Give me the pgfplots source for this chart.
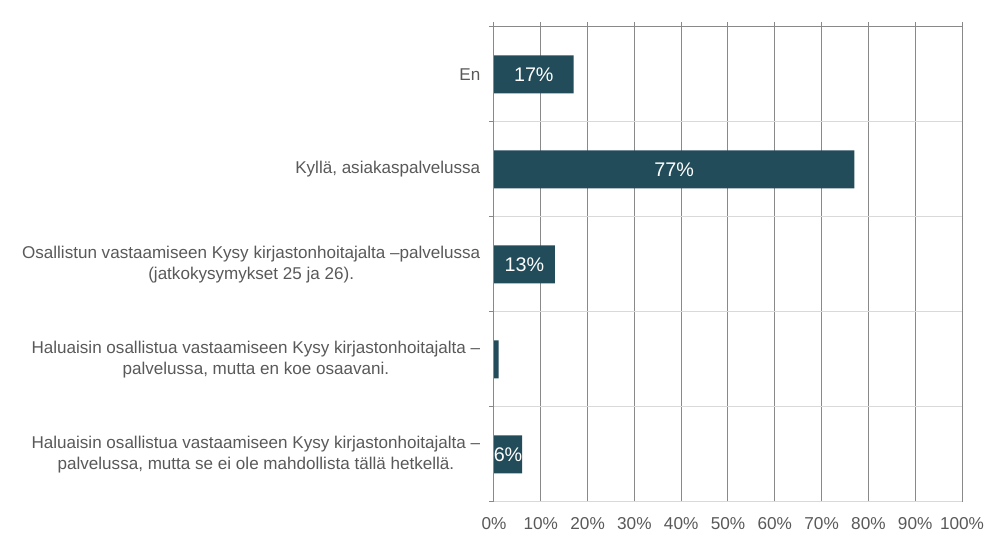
\documentclass[border=0pt]{standalone}
\usepackage{pgfplots}
\pgfplotsset{compat=1.18}
\usepackage{fontspec}
\setmainfont{Liberation Sans}
\definecolor{barc}{HTML}{224C5A}
\definecolor{txt}{HTML}{595959}
\definecolor{gridd}{HTML}{898989}
\definecolor{gridl}{HTML}{D9D9D9}
\begin{document}
\begin{tikzpicture}
\useasboundingbox (0,0) rectangle (753pt,408.75pt);
\begin{axis}[
 at={(370.5pt,32.25pt)}, anchor=south west,
 scale only axis, width=351pt, height=356.25pt,
 clip=false,
 xbar, bar width=28.5pt,
 xmin=0, xmax=100, ymin=0.5, ymax=5.5, y dir=reverse,
 axis line style={draw=none},
 xtick={0,10,...,100},
 xticklabels={0\%,10\%,20\%,30\%,40\%,50\%,60\%,70\%,80\%,90\%,100\%},
 xtick pos=upper, xticklabel pos=lower,
 tick align=outside,
 x tick style={draw=gridd, line width=0.75pt},
 major tick length=3.75pt,
 xmajorgrids,
 x grid style={draw=gridd, line width=0.75pt},
 ytick={1,2,3,4,5},
 ytick pos=left,
 y tick style={draw=none},
 yticklabels={{En},{Kyllä, asiakaspalvelussa},{Osallistun vastaamiseen Kysy kirjastonhoitajalta –palvelussa\\(jatkokysymykset 25 ja 26).},{Haluaisin osallistua vastaamiseen Kysy kirjastonhoitajalta –\\palvelussa, mutta en koe osaavani.},{Haluaisin osallistua vastaamiseen Kysy kirjastonhoitajalta –\\palvelussa, mutta se ei ole mahdollista tällä hetkellä.}},
 extra y ticks={0.5,1.5,2.5,3.5,4.5,5.5},
 extra y tick labels={},
 extra y tick style={ymajorgrids=true, y grid style={draw=gridl, line width=0.75pt}, y tick style={draw=gridd, line width=0.75pt}, major tick length=3.75pt},
 xticklabel style={font=\fontsize{12.9}{15}\selectfont, text=txt, yshift=-4pt},
 yticklabel style={font=\fontsize{12.8}{15.2}\selectfont, text=txt, align=center, xshift=-3pt},
 visualization depends on={rawx \as \rawx},
 nodes near coords,
 point meta=explicit symbolic,
 nodes near coords style={anchor=center, text=white, font=\fontsize{14.8}{18}\selectfont, shift={(axis direction cs:-\rawx/2,0)}},
]
\addplot[fill=barc, draw=none] table[x=x, y=y, meta=lab] {
x y lab
17 1 17\%
77 2 77\%
13 3 13\%
1 4 {}
6 5 6\%
};
\draw[gridd, line width=0.75pt] (axis cs:0,0.5) -- (axis cs:100,0.5);
\draw[gridd, line width=0.75pt] (axis cs:0,0.5) -- (axis cs:0,5.5);
\end{axis}
\end{tikzpicture}
\end{document}
